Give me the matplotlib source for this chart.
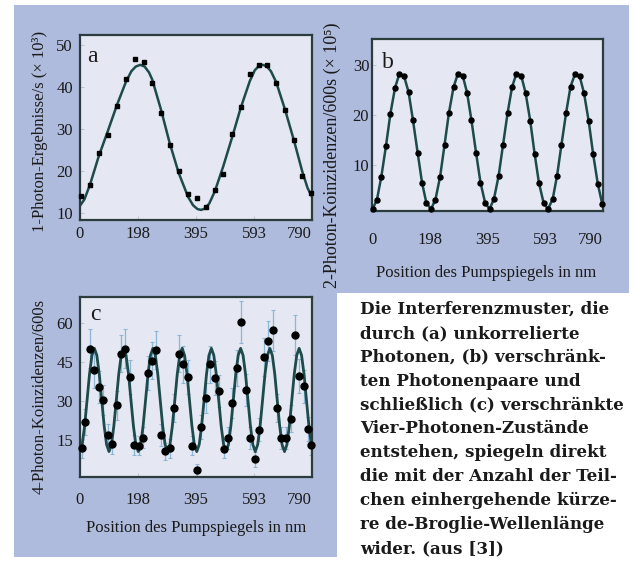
import matplotlib
matplotlib.use('Agg')
import matplotlib.pyplot as plt
from matplotlib.patches import Rectangle

SERIF = ['Liberation Serif', 'DejaVu Serif']
plt.rcParams['font.family'] = SERIF

# ---------------- data ----------------
xticks = [0, 198, 395, 593, 790]
xtick_labels = ['0', '198', '395', '593', '790']

# panel a: 1-photon counts
a_x = [3, 34, 64, 95, 125, 156, 186, 217, 246, 276, 305, 336, 368, 397, 428,
       459, 488, 519, 547, 578, 609, 638, 668, 698, 729, 757, 785]
a_y = [14.0, 16.7, 24.3, 28.5, 35.6, 42.0, 46.6, 46.0, 41.0, 33.9, 26.2, 20.1,
       14.5, 13.6, 11.4, 15.5, 19.4, 28.8, 35.2, 43.2, 45.3, 45.3, 41.1, 34.6,
       27.4, 18.8, 14.9]
a_fit_x = [0, 15, 34, 64, 95, 125, 156, 175, 190, 205, 220, 235, 246, 276, 305,
           336, 368, 385, 400, 412, 425, 440, 459, 488, 519, 547, 578, 595, 610,
           622, 635, 650, 668, 698, 729, 757, 775, 790]
a_fit_y = [11.8, 13.3, 16.8, 23.6, 29.6, 35.6, 41.2, 43.8, 44.9, 45.3, 44.9, 43.5,
           41.8, 34.6, 26.8, 19.6, 13.9, 11.9, 11.0, 10.8, 11.1, 12.3, 15.2, 21.2,
           28.3, 35.0, 41.4, 44.0, 45.1, 45.3, 45.0, 43.8, 41.2, 34.7, 27.2, 19.9,
           16.0, 13.9]
a_yticks = [10, 20, 30, 40, 50]

# panel b: 2-photon coincidences
b_x = [2, 17, 32, 48, 63, 79, 94, 109, 125, 140, 156, 171, 186, 202, 217, 233,
       248, 263, 279, 294, 310, 325, 340, 356, 371, 387, 402, 417, 433, 448, 464,
       479, 494, 510, 525, 541, 556, 571, 587, 602, 618, 633, 648, 664, 679, 695,
       710, 725, 741, 756, 772, 787]
b_y = [1.2, 3.1, 7.7, 13.9, 20.3, 25.5, 28.3, 27.9, 24.6, 19.0, 12.5, 6.5, 2.4,
       1.2, 3.1, 7.7, 14.0, 20.4, 25.6, 28.3, 27.9, 24.5, 19.0, 12.4, 6.5, 2.4,
       1.2, 3.2, 7.8, 14.0, 20.5, 25.6, 28.3, 27.9, 24.5, 18.9, 12.3, 6.4, 2.4,
       1.2, 3.2, 7.9, 14.1, 20.5, 25.7, 28.3, 27.8, 24.4, 18.8, 12.3, 6.3, 2.3]
b_yticks = [10, 20, 30]

# panel c: 4-photon coincidences
c_x = [6, 18, 34, 49, 64, 79, 94, 109, 125, 140, 154, 170, 185, 200, 216, 230,
       245, 260, 276, 290, 306, 321, 336, 352, 367, 381, 397, 413, 428, 443, 459,
       473, 490, 504, 519, 533, 549, 564, 579, 595, 609, 626, 640, 656, 672, 685,
       700, 717, 732, 747, 763, 777, 788]
c_y = [11.8, 21.9, 50.2, 41.9, 35.4, 30.3, 16.8, 13.6, 28.4, 48.3, 50.2, 39.3,
       13.0, 12.7, 15.9, 40.8, 45.5, 49.6, 16.8, 10.6, 11.7, 27.3, 48.3, 44.1,
       39.3, 12.7, 3.3, 20.0, 31.2, 44.1, 38.9, 33.8, 11.6, 15.8, 29.3, 42.8,
       60.5, 34.4, 15.8, 7.6, 19.0, 47.0, 53.1, 57.3, 27.3, 15.8, 15.8, 23.2,
       55.4, 39.7, 35.7, 19.1, 13.0]
c_err = [3.6, 4.9, 7.4, 6.8, 6.2, 5.8, 4.3, 3.9, 5.6, 7.3, 7.4, 6.6, 3.8, 3.7,
         4.2, 6.7, 7.1, 7.4, 4.3, 3.4, 3.6, 5.5, 7.3, 7.0, 6.6, 3.7, 2.5, 4.7,
         5.9, 7.0, 6.5, 6.1, 3.6, 4.2, 5.7, 6.9, 8.2, 6.2, 4.2, 2.9, 4.6, 7.2,
         7.7, 7.9, 5.5, 4.2, 4.2, 5.1, 7.8, 6.6, 6.3, 4.6, 3.8]
c_fit_x = [-0.8, 7.5, 15.8, 24.1, 32.4, 40.7, 49.0, 57.3, 65.6, 73.9, 82.2, 90.5,
           98.8, 107.1, 115.4, 123.7, 132.0, 140.3, 148.6, 156.9, 165.2, 173.5, 181.8, 190.1,
           198.4, 206.7, 215.0, 223.3, 231.6, 239.9, 248.2, 256.5, 264.8, 273.1, 281.4, 289.7,
           298.0, 306.3, 314.6, 322.9, 331.2, 339.5, 347.8, 356.1, 364.4, 372.7, 381.0, 389.3,
           397.6, 405.9, 414.2, 422.5, 430.8, 439.1, 447.4, 455.7, 464.0, 472.3, 480.6, 488.9,
           497.2, 505.5, 513.8, 522.1, 530.4, 538.7, 547.0, 555.3, 563.6, 571.9, 580.2, 588.5,
           596.8, 605.1, 613.4, 621.7, 630.0, 638.3, 646.6, 654.9, 663.2, 671.5, 679.8, 688.1,
           696.4, 704.7, 713.0, 721.3, 729.6, 737.9, 746.2, 754.5, 762.8, 771.1, 779.4, 787.7,
           796.0]
c_fit_y = [10.5, 13.2, 20.5, 30.4, 40.4, 47.6, 50.3, 47.6, 40.4, 30.4, 20.5, 13.2,
           10.5, 13.2, 20.5, 30.4, 40.4, 47.6, 50.3, 47.6, 40.4, 30.4, 20.5, 13.2,
           10.5, 13.2, 20.5, 30.4, 40.4, 47.6, 50.3, 47.6, 40.4, 30.4, 20.5, 13.2,
           10.5, 13.2, 20.5, 30.4, 40.4, 47.6, 50.3, 47.6, 40.4, 30.4, 20.5, 13.2,
           10.5, 13.2, 20.5, 30.4, 40.4, 47.6, 50.3, 47.6, 40.4, 30.4, 20.5, 13.2,
           10.5, 13.2, 20.5, 30.4, 40.4, 47.6, 50.3, 47.6, 40.4, 30.4, 20.5, 13.2,
           10.5, 13.2, 20.5, 30.4, 40.4, 47.6, 50.3, 47.6, 40.4, 30.4, 20.5, 13.2,
           10.5, 13.2, 20.5, 30.4, 40.4, 47.6, 50.3, 47.6, 40.4, 30.4, 20.5, 13.2,
           10.5]
c_yticks = [15, 30, 45, 60]

caption_lines = [
    "Die Interferenzmuster, die",
    "durch (a) unkorrelierte",
    "Photonen, (b) verschränk-",
    "ten Photonenpaare und",
    "schließlich (c) verschränkte",
    "Vier-Photonen-Zustände",
    "entstehen, spiegeln direkt",
    "die mit der Anzahl der Teil-",
    "chen einhergehende kürze-",
    "re de-Broglie-Wellenlänge",
    "wider. (aus [3])",
]

# ---------------- styling ----------------
BLUE = '#aebbdc'
FACE = '#e5e8f2'
EDGE = '#2c3b3b'
CURVE = '#1d4a4b'
ERRC = '#8db6d6'
TXT = '#1a1a1a'

W, H = 635, 567
fig = plt.figure(figsize=(W / 100, H / 100), dpi=100)
fig.patch.set_facecolor('white')


def fx(px):
    return px / W


def fy(py):
    return 1 - py / H


fig.patches.append(Rectangle((fx(14), fy(557)), (629 - 14) / W, (557 - 5) / H,
                             transform=fig.transFigure, fc=BLUE, ec='none', zorder=-2))
fig.patches.append(Rectangle((fx(337), fy(567)), (635 - 337) / W, (567 - 293) / H,
                             transform=fig.transFigure, fc='white', ec='none', zorder=-1))


def make_axes(l, t, r, b, ylim, yticks, xpad, ypad):
    ax = fig.add_axes([fx(l), fy(b), (r - l) / W, (b - t) / H])
    ax.set_facecolor(FACE)
    for s in ax.spines.values():
        s.set_color(EDGE)
        s.set_linewidth(1.6)
    ax.set_xlim(0, 790)
    ax.set_ylim(*ylim)
    ax.set_xticks(xticks, xtick_labels)
    ax.set_yticks(yticks, [str(v) for v in yticks])
    ax.tick_params(direction='in', length=3, width=0.6, color='#b5bccb',
                   labelsize=12, labelcolor=TXT, top=False, right=False)
    ax.tick_params(axis='x', pad=xpad)
    ax.tick_params(axis='y', pad=ypad)
    ax.get_xticklabels()[-1].set_horizontalalignment('right')
    return ax


# panel a
ax_a = make_axes(80, 35, 312, 220, (8.4, 52.4), a_yticks, 4, 5)
ax_a.plot(a_fit_x, a_fit_y, color=CURVE, lw=1.8, zorder=2, clip_on=True)
ax_a.plot(a_x, a_y, 's', color='black', ms=3.5, zorder=3, clip_on=False)

# panel b
ax_b = make_axes(372, 39, 603, 211, (0.8, 35.2), b_yticks, 15, 2)
ax_b.plot(b_x, b_y, color=CURVE, lw=1.8, zorder=2)
ax_b.plot(b_x, b_y, 'o', color='black', ms=3.6, zorder=3, clip_on=False)

# panel c
ax_c = make_axes(80, 297, 312, 477, (0.7, 70.1), c_yticks, 11, 5)
ax_c.errorbar(c_x, c_y, yerr=c_err, fmt='none', ecolor=ERRC, elinewidth=0.9,
              capsize=1.5, capthick=0.8, zorder=1.5)
ax_c.plot(c_fit_x, c_fit_y, color=CURVE, lw=2.0, zorder=2)
ax_c.plot(c_x, c_y, 'o', color='black', ms=5, zorder=3, clip_on=False)

# panel letters
fig.text(fx(92), fy(57), 'a', fontsize=17, ha='center', va='center', color=TXT)
fig.text(fx(388), fy(62), 'b', fontsize=17, ha='center', va='center', color=TXT)
fig.text(fx(95), fy(315), 'c', fontsize=17, ha='center', va='center', color=TXT)

# axis labels
fig.text(fx(40), fy(131), '1-Photon-Ergebnisse/s (× 10³)', rotation=90,
         fontsize=12, ha='center', va='center', color=TXT, family=SERIF)
fig.text(fx(332), fy(155), '2-Photon-Koinzidenzen/600s (× 10⁵)', rotation=90,
         fontsize=13, ha='center', va='center', color=TXT, family=SERIF)
fig.text(fx(40), fy(396), '4-Photon-Koinzidenzen/600s', rotation=90,
         fontsize=12, ha='center', va='center', color=TXT)
fig.text(fx(486), fy(273), 'Position des Pumpspiegels in nm',
         fontsize=12, ha='center', va='center', color=TXT)
fig.text(fx(196), fy(528), 'Position des Pumpspiegels in nm',
         fontsize=12, ha='center', va='center', color=TXT)

# caption
fig.text(fx(360), fy(301), '\n'.join(caption_lines), fontsize=12.1,
         fontweight='bold', ha='left', va='top', linespacing=1.53, color=TXT,
         family=['DejaVu Serif'])

fig.savefig('out.png', dpi=100, facecolor='white')
